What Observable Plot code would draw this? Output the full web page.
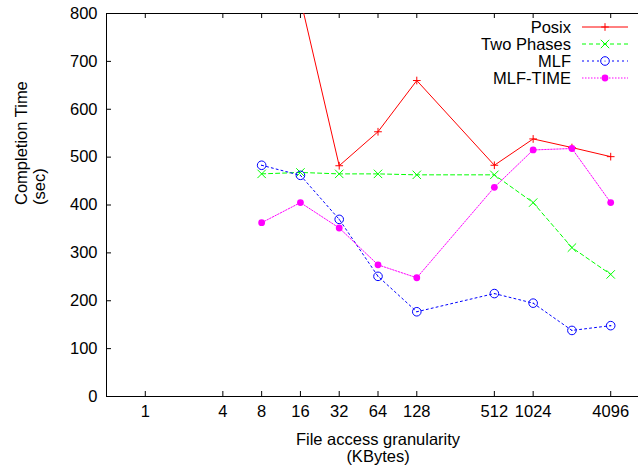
<!DOCTYPE html>
<html><head><meta charset="utf-8">
<script src="https://cdn.jsdelivr.net/npm/d3@7"></script>
<script src="https://cdn.jsdelivr.net/npm/@observablehq/plot@0.6"></script>
<style>
html,body{margin:0;padding:0;background:#fff;overflow:hidden}
#wrap{position:relative;width:638px;height:465px;overflow:hidden;background:#fff}
#wrap > svg{max-width:none !important;display:block}
#legend{position:absolute;left:0;top:0}
</style></head><body><div id="wrap"></div>
<script>
// ---- data ----
const sizes = [8, 16, 32, 64, 128, 512, 1024, 2048, 4096];
const posixSizes = [16, 32, 64, 128, 512, 1024, 2048, 4096];
const posix = [830, 482, 553, 660, 483, 538, 520, 501];
const twoPhases = [465, 468, 465, 465, 463, 463, 405, 311, 255];
const mlf = [483, 462, 370, 251, 177, 215, 195, 138, 148];
const mlfTime = [363, 405, 352, 275, 248, 437, 515, 518, 405];
const seriesNames = ["Posix", "Two Phases", "MLF", "MLF-TIME"];
const xTicks = [1, 4, 8, 16, 32, 64, 128, 512, 1024, 4096];
const yTicks = [0, 100, 200, 300, 400, 500, 600, 700, 800];
const xTitle = "File access granularity\n(KBytes)";
const yTitle = "Completion Time\n(sec)";

const rows = (xs, ys, name) => xs.map((x, i) => ({x, y: ys[i], series: name}));
const dPosix = rows(posixSizes, posix, seriesNames[0]);
const dTwo = rows(sizes, twoPhases, seriesNames[1]);
const dMlf = rows(sizes, mlf, seriesNames[2]);
const dTime = rows(sizes, mlfTime, seriesNames[3]);

const FONT = "'Liberation Sans', Arial, Helvetica, sans-serif";
const FS = 16.5;
const RED = "#ff0000", GREEN = "#00ff00", BLUE = "#0000ff", MAG = "#ff00ff";

const chart = Plot.plot({
  width: 660, height: 465,
  marginLeft: 106, marginRight: 11, marginTop: 13, marginBottom: 69,
  style: {fontFamily: FONT, fontSize: FS + "px", background: "#fff", color: "#000", maxWidth: "none"},
  x: {type: "log", base: 2, domain: [0.5, 8192]},
  y: {domain: [0, 800]},
  marks: [
    Plot.frame({stroke: "#000"}),
    Plot.tickX(xTicks, {x: d => d, insetTop: 378, stroke: "#000"}),
    Plot.tickX(xTicks, {x: d => d, insetBottom: 378, stroke: "#000"}),
    Plot.tickY(yTicks, {y: d => d, insetRight: 538, stroke: "#000"}),
    Plot.axisX({ticks: xTicks, tickFormat: d => String(d), tickSize: 0, tickPadding: 9, label: null, fontSize: FS}),
    Plot.axisY({ticks: yTicks, tickFormat: d => String(d), tickSize: 0, tickPadding: 9, label: null, fontSize: FS}),
    Plot.line(dPosix, {x: "x", y: "y", stroke: RED, strokeWidth: 1, clip: true}),
    Plot.line(dTwo, {x: "x", y: "y", stroke: GREEN, strokeWidth: 1, strokeDasharray: "4,3", clip: true}),
    Plot.line(dMlf, {x: "x", y: "y", stroke: BLUE, strokeWidth: 1, strokeDasharray: "2,3", clip: true}),
    Plot.line(dTime, {x: "x", y: "y", stroke: MAG, strokeWidth: 1, strokeDasharray: "1.5,1.5", clip: true}),
    Plot.dot(dPosix, {x: "x", y: "y", symbol: "plus", r: 2.6, stroke: RED, strokeWidth: 1, clip: true}),
    Plot.dot(dTwo, {x: "x", y: "y", symbol: "times", r: 3.9, stroke: GREEN, strokeWidth: 1, clip: true}),
    Plot.dot(dMlf, {x: "x", y: "y", r: 4.3, stroke: BLUE, fill: "none", strokeWidth: 1, clip: true}),
    Plot.dot(dMlf, {x: "x", y: "y", r: 0.6, fill: BLUE, stroke: "none", clip: true}),
    Plot.dot(dTime, {x: "x", y: "y", r: 3.4, fill: MAG, stroke: "none", clip: true}),
    Plot.text([xTitle], {frameAnchor: "bottom", dy: 37, lineAnchor: "top", lineHeight: 1.0, fontSize: FS, fill: "#000"}),
    Plot.text([yTitle], {frameAnchor: "left", dx: -76, rotate: -90, lineAnchor: "middle", lineHeight: 1.05, fontSize: FS, fill: "#000"})
  ]
});
document.getElementById("wrap").appendChild(chart);

// ---- legend (inside plot, top right) ----
const legendStyles = [
  {color: RED, dash: null, sym: "plus"},
  {color: GREEN, dash: "4,3", sym: "times"},
  {color: BLUE, dash: "2,3", sym: "ring"},
  {color: MAG, dash: "1.5,1.5", sym: "disc"}
];
const lg = d3.select("#wrap").append("svg").attr("id", "legend")
  .attr("width", 638).attr("height", 100)
  .style("font-family", FONT).style("font-size", FS + "px");
seriesNames.forEach((name, i) => {
  const cy = 27 + i * 17, st = legendStyles[i];
  lg.append("text").attr("x", 571).attr("y", cy).attr("dy", "0.35em")
    .attr("text-anchor", "end").attr("fill", "#000").text(name);
  lg.append("line").attr("x1", 582).attr("x2", 628).attr("y1", cy).attr("y2", cy)
    .attr("stroke", st.color).attr("stroke-width", 1)
    .attr("stroke-dasharray", st.dash);
  const g = lg.append("g").attr("transform", `translate(605,${cy})`);
  if (st.sym === "plus") g.append("path").attr("d", d3.symbol(d3.symbolPlus, Math.PI * 2.6 * 2.6)()).attr("stroke", st.color).attr("fill", "none");
  if (st.sym === "times") g.append("path").attr("d", d3.symbol(d3.symbolTimes, Math.PI * 3.9 * 3.9)()).attr("stroke", st.color).attr("fill", "none");
  if (st.sym === "ring") { g.append("circle").attr("r", 4.3).attr("stroke", st.color).attr("fill", "#fff"); g.append("circle").attr("r", 0.6).attr("fill", st.color); }
  if (st.sym === "disc") g.append("circle").attr("r", 3.4).attr("fill", st.color);
});
</script></body></html>
